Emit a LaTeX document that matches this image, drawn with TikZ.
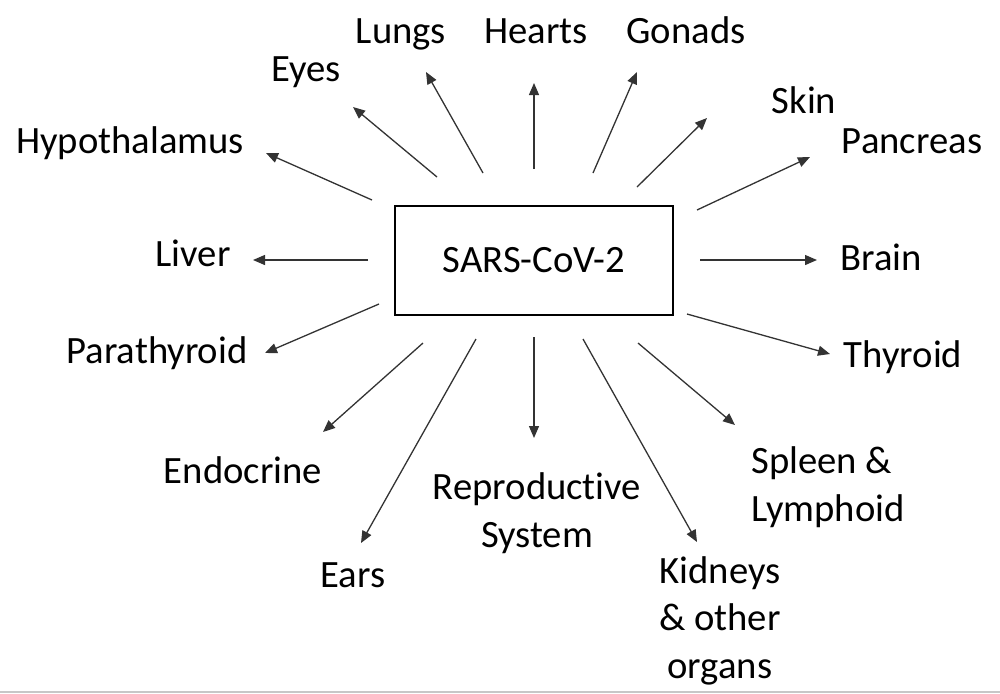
\documentclass[tikz,border=0pt]{standalone}
\usepackage{fontspec}
\setmainfont{Carlito}[Ligatures=NoCommon]
\usetikzlibrary{arrows.meta}

\begin{document}
\begin{tikzpicture}[
    x=0.2mm, y=-0.2mm,
    % organ labels and the central box
    organ/.style={inner sep=0pt, anchor=base, align=center, font=\fontsize{22}{27}\selectfont},
    virus/.style={draw=black, line width=0.4mm, minimum width=55.6mm, minimum height=21.8mm, font=\fontsize{22}{27}\selectfont},
    arr/.style={-{Triangle[length=2.4mm, width=2mm]}, line width=0.26mm, color=black!80},
]
\useasboundingbox (0,0) rectangle (1000,693);

% ==================== centre ====================
\node[virus] (cov) at (534,260.5) {SARS-CoV-2};

% ==================== organs, top ====================
\node[organ] (hypo)    at (130,153) {Hypothalamus};
\node[organ] (eyes)    at (306,81)  {Eyes};
\node[organ] (lungs)   at (401,43)  {Lungs};
\node[organ] (hearts)  at (536,43)  {Hearts};
\node[organ] (gonads)  at (686,43)  {Gonads};
\node[organ] (skin)    at (804,113) {Skin};
\node[organ] (pancr)   at (912,153) {Pancreas};

% ==================== organs, sides ====================
\node[organ] (liver)   at (193,266) {Liver};
\node[organ] (brain)   at (881,270) {Brain};
\node[organ] (parathy) at (157,363) {Parathyroid};
\node[organ] (thyroid) at (903,367) {Thyroid};

% ==================== organs, bottom ====================
\node[organ] (endo)    at (243,483) {Endocrine};
\node[organ] (repro)   at (537,547) {Reproductive\\System};
\node[organ, align=left] (spleen) at (828,521) {Spleen \&\\Lymphoid};
\node[organ] (ears)    at (353,587) {Ears};
\node[organ] (kidney)  at (720,678) {Kidneys\\\& other\\organs};

% ==================== arrows (start / tip) ====================
\foreach \n/\sx/\sy/\tx/\ty in {
    hypo/372/200/266/153, eyes/437/177/353/107, lungs/483/173/426/72,
    hearts/534/169/534/83, gonads/593/173/637/72, skin/637/187/707/118,
    pancr/697/210/810/157, brain/700/260/817/260, thyroid/687/314/830/354,
    spleen/638/343/735/425, kidney/583/339/697/542, repro/534/337/534/438,
    ears/476/339/361/543, endo/423/343/323/432, parathy/379/304/265/353,
    liver/368/260/253/260} {
  \coordinate (\n-s) at (\sx,\sy);
  \coordinate (\n-t) at (\tx,\ty);
  \draw[arr] (\n-s) -- (\n-t);
}

% bottom edge
\draw[black!22, line width=0.3mm] (0,692) -- (1000,692);

\end{tikzpicture}
\end{document}
